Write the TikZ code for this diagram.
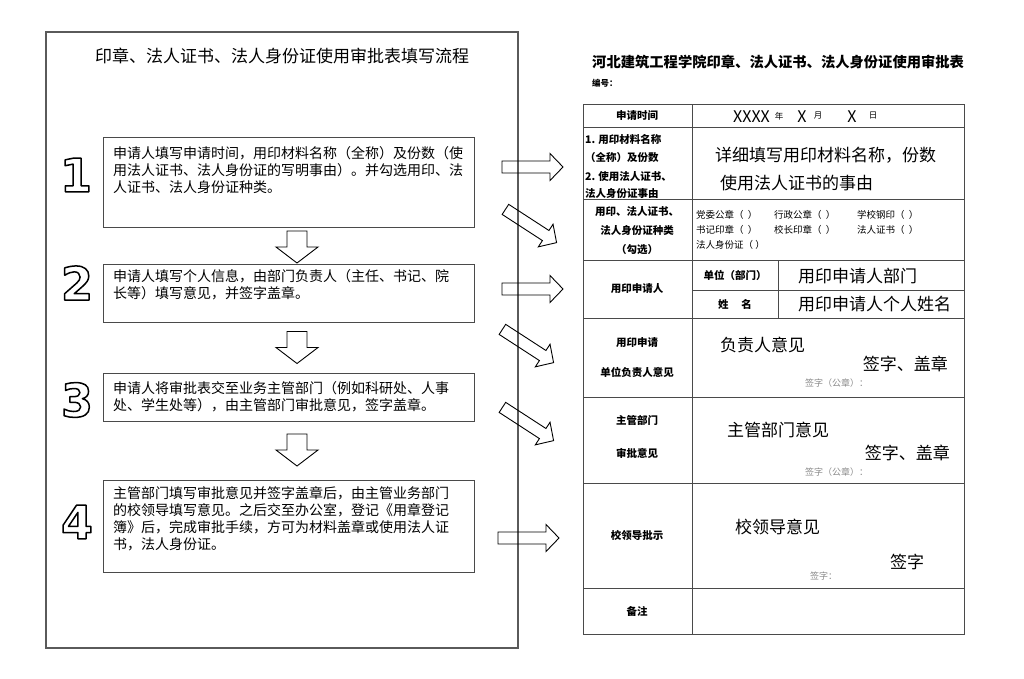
\documentclass[tikz,border=0pt]{standalone}
\usepackage{fontspec}
\setmainfont{Noto Sans CJK SC}
\newfontfamily\digitfont{DejaVu Sans}
\newcommand\outlinetext[1]{\special{pdf:literal direct 1 j 1.5 w 1 Tr}#1\special{pdf:literal direct 0 Tr}}
% hollow block arrow: centre x, centre y, angle, length, shaft width, head width, head length
\newcommand\hollowarrow[7]{%
  \draw[arrowline, shift={(#1,#2)}, rotate=#3]
    ({-#4/2},{-#5/2}) -- ({#4/2-#7},{-#5/2}) -- ({#4/2-#7},{-#6/2}) -- ({#4/2},0)
    -- ({#4/2-#7},{#6/2}) -- ({#4/2-#7},{#5/2}) -- ({-#4/2},{#5/2}) -- cycle;}
\definecolor{linegray}{HTML}{4A4A4A}
\definecolor{framegray}{HTML}{5A5A5A}
\definecolor{signgray}{HTML}{8A8A8A}
\tikzset{
  flowbox/.style={draw=linegray, line width=1pt, inner sep=0pt, minimum width=371pt},
  flowtext/.style={inner sep=0pt, anchor=north west, align=left, font=\fontsize{14}{17}\selectfont},
  arrowline/.style={draw=black, line width=0.9pt, line join=miter},
  bignum/.style={inner sep=0pt, font=\digitfont\bfseries\fontsize{46}{46}\selectfont},
  tline/.style={draw=linegray, line width=1pt},
  lbl/.style={inner sep=0pt, font=\bfseries\fontsize{10.5}{12}\selectfont},
  lblw/.style={lbl, anchor=west},
  opt/.style={inner sep=0pt, anchor=west, font=\fontsize{9.5}{11}\selectfont},
  filltext/.style={inner sep=0pt, anchor=west, font=\fontsize{17}{20}\selectfont},
  filltexte/.style={inner sep=0pt, anchor=east, font=\fontsize{17}{20}\selectfont},
  sign/.style={inner sep=0pt, anchor=west, text=signgray, font=\fontsize{9}{10}\selectfont},
}
\begin{document}
\begin{tikzpicture}[x=1pt,y=-1pt]
\useasboundingbox (0,0) rectangle (1024,679);
\fill[white] (0,0) rectangle (1024,679);

% ---------- left: flow chart ----------
\draw[draw=framegray, line width=1.2pt] (46,32) rectangle (518,648);
\node[inner sep=0pt, font=\fontsize{17}{20}\selectfont] (ltitle) at (282,56) {印章、法人证书、法人身份证使用审批表填写流程};

\node[flowbox, minimum height=89pt] (b1) at (288.5,182.5) {};
\node[flowbox, minimum height=58pt] (b2) at (288.5,293) {};
\node[flowbox, minimum height=48pt] (b3) at (288.5,397) {};
\node[flowbox, minimum height=92pt] (b4) at (288.5,526) {};

\node[flowtext] (t1) at (113,146) {申请人填写申请时间，用印材料名称（全称）及份数（使\\用法人证书、法人身份证的写明事由）。并勾选用印、法\\人证书、法人身份证种类。};
\node[flowtext] (t2) at (113,269) {申请人填写个人信息，由部门负责人（主任、书记、院\\长等）填写意见，并签字盖章。};
\node[flowtext] (t3) at (113,381) {申请人将审批表交至业务主管部门（例如科研处、人事\\处、学生处等），由主管部门审批意见，签字盖章。};
\node[flowtext] (t4) at (113,486) {主管部门填写审批意见并签字盖章后，由主管业务部门\\的校领导填写意见。之后交至办公室，登记《用章登记\\簿》后，完成审批手续，方可为材料盖章或使用法人证\\书，法人身份证。};

\node[bignum] (n1) at (76,175) {\outlinetext{1}};
\node[bignum] (n2) at (77,283) {\outlinetext{2}};
\node[bignum] (n3) at (77,400) {\outlinetext{3}};
\node[bignum] (n4) at (77,522) {\outlinetext{4}};

% down block arrows between steps
\hollowarrow{297}{247}{-90}{32}{20}{42}{16}
\hollowarrow{297}{347.5}{-90}{32}{20}{42}{16}
\hollowarrow{297}{450}{-90}{32}{20}{42}{16}

% ---------- block arrows to the form ----------
\hollowarrow{532.5}{167}{0}{61}{12}{27}{13}
\hollowarrow{531}{226}{-33}{61}{12}{27}{13}
\hollowarrow{532.5}{289}{0}{61}{12}{27}{13}
\hollowarrow{528}{346}{-33}{61}{12}{27}{13}
\hollowarrow{528}{424}{-33}{61}{12}{27}{13}
\hollowarrow{528.5}{538}{0}{61}{12}{27}{13}

% ---------- right: form ----------
\node[inner sep=0pt, anchor=west, font=\bfseries\fontsize{14.3}{16}\selectfont] (rtitle) at (592,62) {河北建筑工程学院印章、法人证书、法人身份证使用审批表};
\node[inner sep=0pt, anchor=west, font=\bfseries\fontsize{8.5}{10}\selectfont] (serial) at (592,83) {编号：};

\draw[tline] (583,105) rectangle (964,634);
\draw[tline] (692,105) -- (692,634);
\foreach \yy in {128,199,260,318,397,483,588} {\draw[tline] (583,\yy) -- (964,\yy);}
\draw[tline] (778,260) -- (778,318);
\draw[tline] (692,290) -- (964,290);

% row 1
\node[lbl] (l1) at (637,116) {申请时间};
\node[inner sep=0pt, anchor=west, font=\fontsize{16}{18}\selectfont] (xy) at (733,116.5) {XXXX};
\node[inner sep=0pt, font=\fontsize{8.5}{10}\selectfont] (nian) at (779,116) {年};
\node[inner sep=0pt, font=\fontsize{16}{18}\selectfont] (xm) at (802,116.5) {X};
\node[inner sep=0pt, font=\fontsize{8.5}{10}\selectfont] (yue) at (818,116) {月};
\node[inner sep=0pt, font=\fontsize{16}{18}\selectfont] (xd) at (852,116.5) {X};
\node[inner sep=0pt, font=\fontsize{8.5}{10}\selectfont] (ri) at (873,116) {日};

% row 2
\node[lblw] (l2a) at (585,140) {1. 用印材料名称};
\node[lblw] (l2b) at (585,158) {（全称）及份数};
\node[lblw] (l2c) at (585,177) {2. 使用法人证书、};
\node[lblw] (l2d) at (585,194) {法人身份证事由};
\node[filltext] (f2a) at (715,155) {详细填写用印材料名称，份数};
\node[filltext] (f2b) at (720,183) {使用法人证书的事由};

% row 3
\node[lbl] (l3a) at (637,212) {用印、法人证书、};
\node[lbl] (l3b) at (637,231) {法人身份证种类};
\node[lbl] (l3c) at (637,250) {（勾选）};
\node[opt] (o1) at (696,215) {党委公章（ \ ）};
\node[opt] (o2) at (774,215) {行政公章（ \ ）};
\node[opt] (o3) at (857,215) {学校钢印（ \ ）};
\node[opt] (o4) at (696,230) {书记印章（ \ ）};
\node[opt] (o5) at (774,230) {校长印章（ \ ）};
\node[opt] (o6) at (857,230) {法人证书（ \ ）};
\node[opt] (o7) at (696,245) {法人身份证（ ）};

% row 4
\node[lbl] (l4) at (637,289) {用印申请人};
\node[lbl] (l4a) at (735,275) {单位（部门）};
\node[lbl] (l4b) at (735,304) {姓\hspace{1.2em}名};
\node[filltext] (f4a) at (798,276) {用印申请人部门};
\node[filltext] (f4b) at (798,304) {用印申请人个人姓名};

% row 5
\node[lbl] (l5a) at (637,343) {用印申请};
\node[lbl] (l5b) at (637,372) {单位负责人意见};
\node[filltext] (f5a) at (720,345) {负责人意见};
\node[filltexte] (f5b) at (948,364) {签字、盖章};
\node[sign] (s5) at (805,383) {签字（公章）：};

% row 6
\node[lbl] (l6a) at (637,420) {主管部门};
\node[lbl] (l6b) at (637,453) {审批意见};
\node[filltext] (f6a) at (727,430) {主管部门意见};
\node[filltexte] (f6b) at (950,453) {签字、盖章};
\node[sign] (s6) at (805,472) {签字（公章）：};

% row 7
\node[lbl] (l7) at (637,535) {校领导批示};
\node[filltext] (f7a) at (735,527) {校领导意见};
\node[filltext] (f7b) at (890,562) {签字};
\node[sign] (s7) at (810,576) {签字：};

% row 8
\node[lbl] (l8) at (637,611) {备注};
\end{tikzpicture}
\end{document}
